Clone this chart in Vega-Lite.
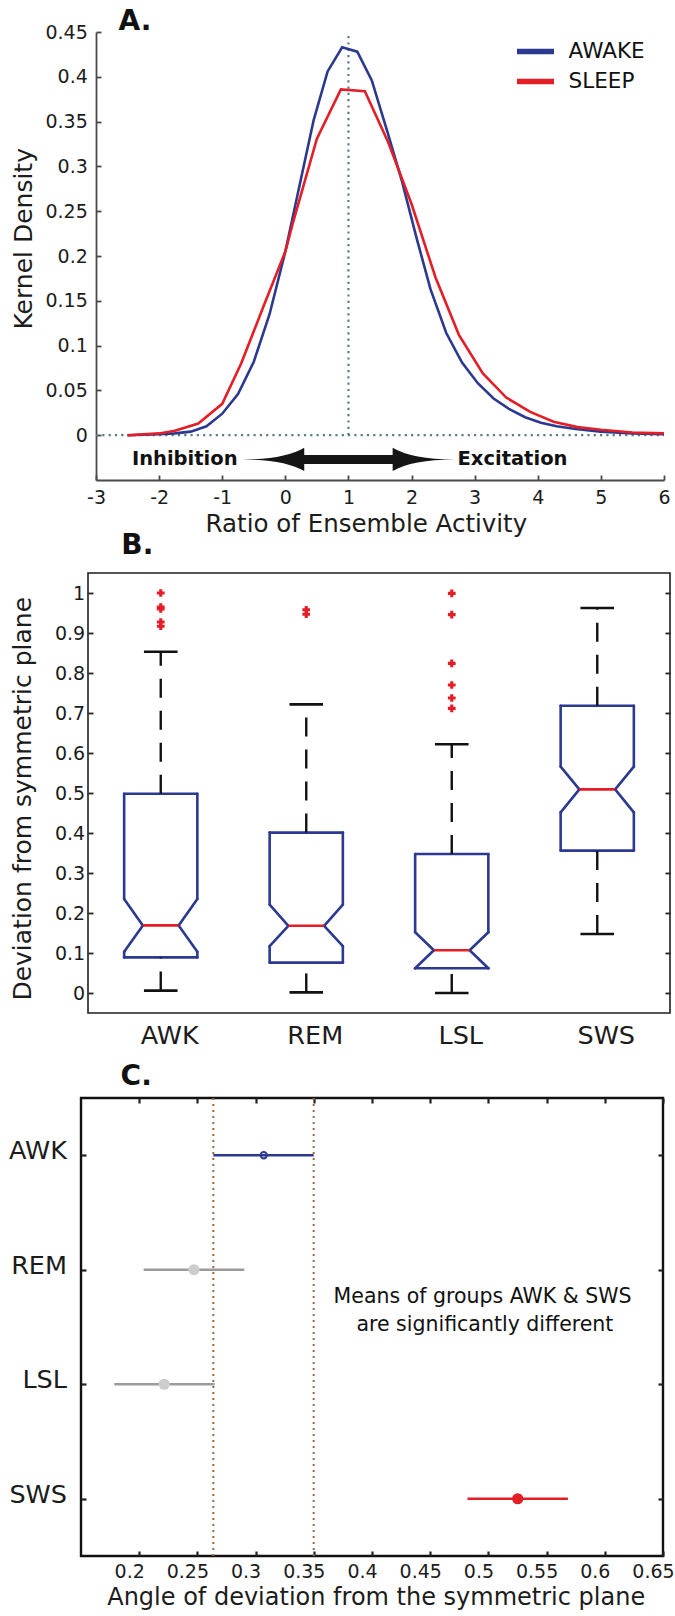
{
  "$schema": "https://vega.github.io/schema/vega-lite/v6.json",
  "background": "white",
  "padding": {"left": 0, "top": 8, "right": 4, "bottom": 2},
  "config": {
    "font": "DejaVu Sans",
    "view": {"stroke": null},
    "axis": {"labelFont": "DejaVu Sans", "titleFont": "DejaVu Sans", "labelFontSize": 19, "titleFontSize": 24, "titleFontWeight": "normal", "labelColor": "#1c1c1c", "titleColor": "#1c1c1c", "tickColor": "#222222", "domainColor": "#4a4a4a", "tickWidth": 1.8, "domainWidth": 1.8, "grid": false, "labelFlush": false, "labelOverlap": false, "labelBound": false},
    "title": {"font": "DejaVu Sans", "fontSize": 28, "fontWeight": "bold", "color": "#111111", "anchor": "start", "frame": "group", "baseline": "alphabetic"}
  },
  "datasets": {
    "kde": [
      {"state": "AWAKE", "ratio": -2.5, "density": 0.0},
      {"state": "AWAKE", "ratio": -2.25, "density": 0.0005},
      {"state": "AWAKE", "ratio": -2.0, "density": 0.001},
      {"state": "AWAKE", "ratio": -1.75, "density": 0.002},
      {"state": "AWAKE", "ratio": -1.5, "density": 0.004},
      {"state": "AWAKE", "ratio": -1.25, "density": 0.010},
      {"state": "AWAKE", "ratio": -1.0, "density": 0.024},
      {"state": "AWAKE", "ratio": -0.75, "density": 0.046},
      {"state": "AWAKE", "ratio": -0.5, "density": 0.082},
      {"state": "AWAKE", "ratio": -0.25, "density": 0.135},
      {"state": "AWAKE", "ratio": 0.0, "density": 0.205},
      {"state": "AWAKE", "ratio": 0.22, "density": 0.277},
      {"state": "AWAKE", "ratio": 0.45, "density": 0.352},
      {"state": "AWAKE", "ratio": 0.67, "density": 0.406},
      {"state": "AWAKE", "ratio": 0.9, "density": 0.433},
      {"state": "AWAKE", "ratio": 1.14, "density": 0.428},
      {"state": "AWAKE", "ratio": 1.37, "density": 0.396},
      {"state": "AWAKE", "ratio": 1.62, "density": 0.338},
      {"state": "AWAKE", "ratio": 1.85, "density": 0.283},
      {"state": "AWAKE", "ratio": 2.08, "density": 0.220},
      {"state": "AWAKE", "ratio": 2.3, "density": 0.163},
      {"state": "AWAKE", "ratio": 2.55, "density": 0.114},
      {"state": "AWAKE", "ratio": 2.8, "density": 0.081},
      {"state": "AWAKE", "ratio": 3.05, "density": 0.058},
      {"state": "AWAKE", "ratio": 3.3, "density": 0.041},
      {"state": "AWAKE", "ratio": 3.55, "density": 0.029},
      {"state": "AWAKE", "ratio": 3.8, "density": 0.020},
      {"state": "AWAKE", "ratio": 4.05, "density": 0.014},
      {"state": "AWAKE", "ratio": 4.3, "density": 0.010},
      {"state": "AWAKE", "ratio": 4.6, "density": 0.007},
      {"state": "AWAKE", "ratio": 5.0, "density": 0.004},
      {"state": "AWAKE", "ratio": 5.5, "density": 0.002},
      {"state": "AWAKE", "ratio": 6.0, "density": 0.001},
      {"state": "SLEEP", "ratio": -2.5, "density": 0.0},
      {"state": "SLEEP", "ratio": -2.0, "density": 0.002},
      {"state": "SLEEP", "ratio": -1.75, "density": 0.005},
      {"state": "SLEEP", "ratio": -1.38, "density": 0.013},
      {"state": "SLEEP", "ratio": -1.0, "density": 0.035},
      {"state": "SLEEP", "ratio": -0.7, "density": 0.080},
      {"state": "SLEEP", "ratio": -0.35, "density": 0.143},
      {"state": "SLEEP", "ratio": 0.0, "density": 0.205},
      {"state": "SLEEP", "ratio": 0.12, "density": 0.237},
      {"state": "SLEEP", "ratio": 0.5, "density": 0.331},
      {"state": "SLEEP", "ratio": 0.88, "density": 0.386},
      {"state": "SLEEP", "ratio": 1.26, "density": 0.384},
      {"state": "SLEEP", "ratio": 1.63, "density": 0.327},
      {"state": "SLEEP", "ratio": 2.0, "density": 0.258},
      {"state": "SLEEP", "ratio": 2.38, "density": 0.176},
      {"state": "SLEEP", "ratio": 2.75, "density": 0.112},
      {"state": "SLEEP", "ratio": 3.13, "density": 0.069},
      {"state": "SLEEP", "ratio": 3.5, "density": 0.042},
      {"state": "SLEEP", "ratio": 3.88, "density": 0.026},
      {"state": "SLEEP", "ratio": 4.25, "density": 0.015},
      {"state": "SLEEP", "ratio": 4.63, "density": 0.009},
      {"state": "SLEEP", "ratio": 5.0, "density": 0.006},
      {"state": "SLEEP", "ratio": 5.5, "density": 0.003},
      {"state": "SLEEP", "ratio": 6.0, "density": 0.002}
    ],
    "box": [
      {"group": "AWK", "wlo": 0.006, "q1": 0.089, "nlo": 0.103, "med": 0.169, "nhi": 0.235, "q3": 0.498, "whi": 0.853},
      {"group": "REM", "wlo": 0.0015, "q1": 0.076, "nlo": 0.117, "med": 0.168, "nhi": 0.221, "q3": 0.401, "whi": 0.7215},
      {"group": "LSL", "wlo": 0.0, "q1": 0.062, "nlo": 0.062, "med": 0.107, "nhi": 0.152, "q3": 0.3475, "whi": 0.622},
      {"group": "SWS", "wlo": 0.1475, "q1": 0.356, "nlo": 0.4515, "med": 0.509, "nhi": 0.566, "q3": 0.718, "whi": 0.9625}
    ],
    "outl": [
      {"group": "AWK", "value": 1.0},
      {"group": "AWK", "value": 0.965},
      {"group": "AWK", "value": 0.96},
      {"group": "AWK", "value": 0.9275},
      {"group": "AWK", "value": 0.917},
      {"group": "REM", "value": 0.958},
      {"group": "REM", "value": 0.947},
      {"group": "LSL", "value": 0.999},
      {"group": "LSL", "value": 0.946},
      {"group": "LSL", "value": 0.824},
      {"group": "LSL", "value": 0.770},
      {"group": "LSL", "value": 0.7375},
      {"group": "LSL", "value": 0.7115}
    ],
    "ci": [
      {"group": "AWK", "lo": 0.2637, "mean": 0.307, "hi": 0.3499},
      {"group": "REM", "lo": 0.2038, "mean": 0.247, "hi": 0.2903},
      {"group": "LSL", "lo": 0.1786, "mean": 0.2215, "hi": 0.2648},
      {"group": "SWS", "lo": 0.482, "mean": 0.5252, "hi": 0.5683}
    ]
  },
  "vconcat": [
    {
      "vconcat": [
        {
          "hconcat": [
            {"width": 8, "height": 10, "data": {"values": [{}]}, "mark": {"type": "point", "opacity": 0}},
            {
              "width": 568,
              "height": 448,
              "title": {"text": "A.", "dx": 22.5, "offset": -13},
              "layer": [
                {
                  "data": {"values": [{}]},
                  "mark": {"type": "rule", "color": "#5d7d86", "strokeWidth": 2.2, "strokeDash": [2.2, 4.1]},
                  "encoding": {
                    "x": {"datum": -3, "type": "quantitative", "scale": {"domain": [-3, 6], "nice": false, "zero": false}},
                    "x2": {"datum": 6},
                    "y": {"datum": 0, "type": "quantitative", "scale": {"domain": [-0.05, 0.45], "nice": false, "zero": false}}
                  }
                },
                {
                  "data": {"values": [{}]},
                  "mark": {"type": "rule", "color": "#5d7d86", "strokeWidth": 2.2, "strokeDash": [2.2, 4.1]},
                  "encoding": {
                    "x": {"datum": 1, "type": "quantitative", "scale": {"domain": [-3, 6], "nice": false, "zero": false}},
                    "y": {"datum": 0, "type": "quantitative", "scale": {"domain": [-0.05, 0.45], "nice": false, "zero": false}},
                    "y2": {"datum": 0.45}
                  }
                },
                {
                  "data": {"values": [{}]},
                  "mark": {"type": "point", "shape": "M -1 0 Q -0.6 0 -0.417 -0.11 L -0.417 -0.0425 L 0.417 -0.0425 L 0.417 -0.11 Q 0.6 0 1 0 Q 0.6 0 0.417 0.11 L 0.417 0.0425 L -0.417 0.0425 L -0.417 0.11 Q -0.6 0 -1 0 Z", "size": 44944, "filled": true, "color": "#151515", "opacity": 1, "strokeWidth": 0},
                  "encoding": {
                    "x": {"datum": 1.0, "type": "quantitative", "scale": {"domain": [-3, 6], "nice": false, "zero": false}},
                    "y": {"datum": -0.027, "type": "quantitative", "scale": {"domain": [-0.05, 0.45], "nice": false, "zero": false}}
                  }
                },
                {
                  "data": {"values": [{}]},
                  "mark": {"type": "text", "text": "Inhibition", "fontWeight": "bold", "fontSize": 19.5, "align": "right", "baseline": "middle", "color": "#111111"},
                  "encoding": {
                    "x": {"datum": -0.757, "type": "quantitative", "scale": {"domain": [-3, 6], "nice": false, "zero": false}},
                    "y": {"datum": -0.027, "type": "quantitative", "scale": {"domain": [-0.05, 0.45], "nice": false, "zero": false}}
                  }
                },
                {
                  "data": {"values": [{}]},
                  "mark": {"type": "text", "text": "Excitation", "fontWeight": "bold", "fontSize": 19.5, "align": "left", "baseline": "middle", "color": "#111111"},
                  "encoding": {
                    "x": {"datum": 2.728, "type": "quantitative", "scale": {"domain": [-3, 6], "nice": false, "zero": false}},
                    "y": {"datum": -0.027, "type": "quantitative", "scale": {"domain": [-0.05, 0.45], "nice": false, "zero": false}}
                  }
                },
                {
                  "data": {"name": "kde"},
                  "mark": {"type": "line", "strokeWidth": 2.6},
                  "encoding": {
                    "x": {"field": "ratio", "type": "quantitative", "scale": {"domain": [-3, 6], "nice": false, "zero": false},
                      "axis": {"title": "Ratio of Ensemble Activity", "titleFontSize": 24.5, "values": [-3, -2, -1, 0, 1, 2, 3, 4, 5, 6], "labelExpr": "'' + datum.value", "tickSize": -5, "labelPadding": 13.8, "titleX": 269.9, "titleY": 32.5, "titleBaseline": "top", "titleAlign": "center", "tickColor": "#4a4a4a"}},
                    "y": {"field": "density", "type": "quantitative", "scale": {"domain": [-0.05, 0.45], "nice": false, "zero": false},
                      "axis": {"title": "Kernel Density", "titleFontSize": 25, "values": [0, 0.05, 0.1, 0.15, 0.2, 0.25, 0.3, 0.35, 0.4, 0.45], "format": "~g", "tickSize": -5, "labelPadding": 13.7, "titleX": -59.5, "titleY": 206.3, "titleAngle": 270, "titleBaseline": "bottom", "titleAlign": "center", "tickColor": "#4a4a4a"}},
                    "color": {"field": "state", "type": "nominal", "scale": {"domain": ["AWAKE", "SLEEP"], "range": ["#2b3990", "#e41e26"]},
                      "legend": {"orient": "none", "legendX": 511, "legendY": 8.6, "title": null, "symbolType": "stroke", "symbolStrokeWidth": 5.5, "symbolSize": 1369, "clipHeight": 22, "rowPadding": 8, "labelOffset": 11.6, "labelFontSize": 21.5, "labelFont": "DejaVu Sans", "labelColor": "#111111", "padding": 0, "symbolOffset": 0}}
                  }
                }
              ]
            }
          ],
          "spacing": 0
        },
        {
          "hconcat": [
            {"width": 6, "height": 10, "data": {"values": [{}]}, "mark": {"type": "point", "opacity": 0}},
            {
              "width": 582,
              "height": 440,
              "view": {"stroke": "#1e1e1e", "strokeWidth": 1.6},
              "title": {"text": "B.", "dx": 33.3, "offset": 12.8},
              "data": {"name": "box"},
              "layer": [
                {
                  "mark": {"type": "rule", "color": "#2b3990", "strokeWidth": 2.6, "strokeCap": "round", "xOffset": -36.6, "x2Offset": 36.6},
                  "encoding": {
                    "x": {"field": "group", "type": "nominal", "scale": {"type": "point", "domain": ["AWK", "REM", "LSL", "SWS"], "padding": 0.5},
                      "axis": {"title": null, "ticks": false, "domain": false, "labelFontSize": 25.5, "labelPadding": 10.9, "labelOffset": 8.5, "labelAngle": 0}},
                    "x2": {"field": "group"},
                    "y": {"field": "q3", "type": "quantitative", "scale": {"domain": [-0.05, 1.05], "nice": false, "zero": false},
                      "axis": {"orient": "left", "title": "Deviation from symmetric plane", "titleFontSize": 25, "values": [0, 0.1, 0.2, 0.3, 0.4, 0.5, 0.6, 0.7, 0.8, 0.9, 1], "format": "~g", "tickSize": -5, "labelPadding": 8.3, "domain": false, "titleX": -52.3, "titleY": 225.3, "titleAngle": 270, "titleBaseline": "bottom", "titleAlign": "center"}}
                  }
                },
                {
                  "mark": {"type": "rule", "color": "#2b3990", "strokeWidth": 2.6, "strokeCap": "round", "xOffset": -36.6, "x2Offset": 36.6},
                  "encoding": {"x": {"field": "group", "type": "nominal"}, "x2": {"field": "group"}, "y": {"field": "q1", "type": "quantitative", "axis": null}}
                },
                {
                  "mark": {"type": "rule", "color": "#2b3990", "strokeWidth": 2.6, "strokeCap": "round", "xOffset": -36.6},
                  "encoding": {"x": {"field": "group", "type": "nominal"}, "y": {"field": "q3", "type": "quantitative", "axis": null}, "y2": {"field": "nhi"}}
                },
                {
                  "mark": {"type": "rule", "color": "#2b3990", "strokeWidth": 2.6, "strokeCap": "round", "xOffset": 36.6},
                  "encoding": {"x": {"field": "group", "type": "nominal"}, "y": {"field": "q3", "type": "quantitative", "axis": null}, "y2": {"field": "nhi"}}
                },
                {
                  "mark": {"type": "rule", "color": "#2b3990", "strokeWidth": 2.6, "strokeCap": "round", "xOffset": -36.6, "x2Offset": -17.9},
                  "encoding": {"x": {"field": "group", "type": "nominal"}, "x2": {"field": "group"}, "y": {"field": "nhi", "type": "quantitative", "axis": null}, "y2": {"field": "med"}}
                },
                {
                  "mark": {"type": "rule", "color": "#2b3990", "strokeWidth": 2.6, "strokeCap": "round", "xOffset": 36.6, "x2Offset": 17.9},
                  "encoding": {"x": {"field": "group", "type": "nominal"}, "x2": {"field": "group"}, "y": {"field": "nhi", "type": "quantitative", "axis": null}, "y2": {"field": "med"}}
                },
                {
                  "mark": {"type": "rule", "color": "#2b3990", "strokeWidth": 2.6, "strokeCap": "round", "xOffset": -17.9, "x2Offset": -36.6},
                  "encoding": {"x": {"field": "group", "type": "nominal"}, "x2": {"field": "group"}, "y": {"field": "med", "type": "quantitative", "axis": null}, "y2": {"field": "nlo"}}
                },
                {
                  "mark": {"type": "rule", "color": "#2b3990", "strokeWidth": 2.6, "strokeCap": "round", "xOffset": 17.9, "x2Offset": 36.6},
                  "encoding": {"x": {"field": "group", "type": "nominal"}, "x2": {"field": "group"}, "y": {"field": "med", "type": "quantitative", "axis": null}, "y2": {"field": "nlo"}}
                },
                {
                  "mark": {"type": "rule", "color": "#2b3990", "strokeWidth": 2.6, "strokeCap": "round", "xOffset": -36.6},
                  "encoding": {"x": {"field": "group", "type": "nominal"}, "y": {"field": "nlo", "type": "quantitative", "axis": null}, "y2": {"field": "q1"}}
                },
                {
                  "mark": {"type": "rule", "color": "#2b3990", "strokeWidth": 2.6, "strokeCap": "round", "xOffset": 36.6},
                  "encoding": {"x": {"field": "group", "type": "nominal"}, "y": {"field": "nlo", "type": "quantitative", "axis": null}, "y2": {"field": "q1"}}
                },
                {
                  "mark": {"type": "rule", "color": "#e41e26", "strokeWidth": 2.6, "xOffset": -17.9, "x2Offset": 17.9},
                  "encoding": {"x": {"field": "group", "type": "nominal"}, "x2": {"field": "group"}, "y": {"field": "med", "type": "quantitative", "axis": null}}
                },
                {
                  "mark": {"type": "rule", "color": "#111111", "strokeWidth": 2.4, "strokeDash": [19, 13]},
                  "encoding": {"x": {"field": "group", "type": "nominal"}, "y": {"field": "q3", "type": "quantitative", "axis": null}, "y2": {"field": "whi"}}
                },
                {
                  "mark": {"type": "rule", "color": "#111111", "strokeWidth": 2.4, "strokeDash": [19, 13]},
                  "encoding": {"x": {"field": "group", "type": "nominal"}, "y": {"field": "wlo", "type": "quantitative", "axis": null}, "y2": {"field": "q1"}}
                },
                {
                  "mark": {"type": "rule", "color": "#111111", "strokeWidth": 2.6, "xOffset": -16.8, "x2Offset": 16.8},
                  "encoding": {"x": {"field": "group", "type": "nominal"}, "x2": {"field": "group"}, "y": {"field": "whi", "type": "quantitative", "axis": null}}
                },
                {
                  "mark": {"type": "rule", "color": "#111111", "strokeWidth": 2.6, "xOffset": -16.8, "x2Offset": 16.8},
                  "encoding": {"x": {"field": "group", "type": "nominal"}, "x2": {"field": "group"}, "y": {"field": "wlo", "type": "quantitative", "axis": null}}
                },
                {
                  "data": {"name": "outl"},
                  "mark": {"type": "point", "shape": "cross", "filled": true, "color": "#e41e26", "size": 60, "opacity": 1},
                  "encoding": {
                    "x": {"field": "group", "type": "nominal"},
                    "y": {"field": "value", "type": "quantitative",
                      "axis": {"orient": "right", "title": null, "labels": false, "values": [0, 0.1, 0.2, 0.3, 0.4, 0.5, 0.6, 0.7, 0.8, 0.9, 1], "tickSize": -5, "domain": false}}
                  }
                }
              ],
              "resolve": {"axis": {"y": "independent"}}
            }
          ],
          "spacing": 0
        }
      ],
      "spacing": -5
    },
    {
      "hconcat": [
        {"width": 1, "height": 10, "data": {"values": [{}]}, "mark": {"type": "point", "opacity": 0}},
        {
          "width": 582,
          "height": 458,
          "view": {"stroke": "#111111", "strokeWidth": 2.4},
          "title": {"text": "C.", "dx": 39.6, "offset": 6.3},
          "layer": [
            {
              "data": {"values": [{}]},
              "mark": {"type": "rule", "color": "#a5673f", "strokeWidth": 2, "strokeDash": [2, 4]},
              "encoding": {"x": {"datum": 0.2637, "type": "quantitative", "scale": {"domain": [0.15, 0.65], "nice": false, "zero": false}, "axis": null}}
            },
            {
              "data": {"values": [{}]},
              "mark": {"type": "rule", "color": "#a5673f", "strokeWidth": 2, "strokeDash": [2, 4]},
              "encoding": {"x": {"datum": 0.3499, "type": "quantitative", "scale": {"domain": [0.15, 0.65], "nice": false, "zero": false}, "axis": null}}
            },
            {
              "data": {"name": "ci"},
              "mark": {"type": "rule", "strokeWidth": 2.6},
              "encoding": {
                "x": {"field": "lo", "type": "quantitative", "scale": {"domain": [0.15, 0.65], "nice": false, "zero": false},
                  "axis": {"orient": "bottom", "title": "Angle of deviation from the symmetric plane", "values": [0.2, 0.25, 0.3, 0.35, 0.4, 0.45, 0.5, 0.55, 0.6, 0.65], "format": "~g", "tickSize": -5, "labelPadding": 11.9, "labelOffset": -10, "domain": false, "titleX": 294.7, "titleY": 29.2, "titleBaseline": "top", "titleAlign": "center", "tickWidth": 2.2}},
                "x2": {"field": "hi"},
                "y": {"field": "group", "type": "nominal", "scale": {"type": "point", "domain": ["AWK", "REM", "LSL", "SWS"], "padding": 0.5},
                  "axis": {"orient": "left", "title": null, "labelFontSize": 25.5, "tickSize": -5, "labelPadding": 19.5, "labelOffset": -4.5, "domain": false, "tickWidth": 2.2}},
                "stroke": {"field": "group", "type": "nominal", "scale": {"domain": ["AWK", "REM", "LSL", "SWS"], "range": ["#2b3990", "#9b9b9b", "#9b9b9b", "#e41e26"]}, "legend": null}
              }
            },
            {
              "data": {"name": "ci"},
              "transform": [{"filter": "datum.group !== 'AWK'"}],
              "mark": {"type": "point", "filled": true, "size": 125, "opacity": 1, "strokeWidth": 0},
              "encoding": {
                "x": {"field": "mean", "type": "quantitative",
                  "axis": {"orient": "top", "title": null, "labels": false, "values": [0.2, 0.25, 0.3, 0.35, 0.4, 0.45, 0.5, 0.55, 0.6, 0.65], "tickSize": -5, "domain": false, "tickWidth": 2.2}},
                "y": {"field": "group", "type": "nominal",
                  "axis": {"orient": "right", "title": null, "labels": false, "tickSize": -5, "domain": false, "tickWidth": 2.2}},
                "fill": {"field": "group", "type": "nominal", "scale": {"domain": ["REM", "LSL", "SWS"], "range": ["#cdcdcd", "#cdcdcd", "#e41e26"]}, "legend": null}
              }
            },
            {
              "data": {"name": "ci"},
              "transform": [{"filter": "datum.group === 'AWK'"}],
              "mark": {"type": "point", "filled": false, "stroke": "#2b3990", "strokeWidth": 2, "size": 40, "opacity": 1},
              "encoding": {
                "x": {"field": "mean", "type": "quantitative", "axis": null},
                "y": {"field": "group", "type": "nominal", "axis": null}
              }
            },
            {
              "data": {"values": [{}]},
              "mark": {"type": "text", "text": "Means of groups AWK & SWS", "fontSize": 20.5, "align": "center", "baseline": "middle", "dy": 27.5, "color": "#111111"},
              "encoding": {
                "x": {"datum": 0.495, "type": "quantitative", "axis": null},
                "y": {"datum": "REM", "type": "nominal", "axis": null}
              }
            },
            {
              "data": {"values": [{}]},
              "mark": {"type": "text", "text": "are significantly different", "fontSize": 20.5, "align": "center", "baseline": "middle", "dy": 55.5, "color": "#111111"},
              "encoding": {
                "x": {"datum": 0.497, "type": "quantitative", "axis": null},
                "y": {"datum": "REM", "type": "nominal", "axis": null}
              }
            }
          ],
          "resolve": {"axis": {"x": "independent", "y": "independent"}}
        }
      ],
      "spacing": 0
    }
  ],
  "spacing": 10
}
